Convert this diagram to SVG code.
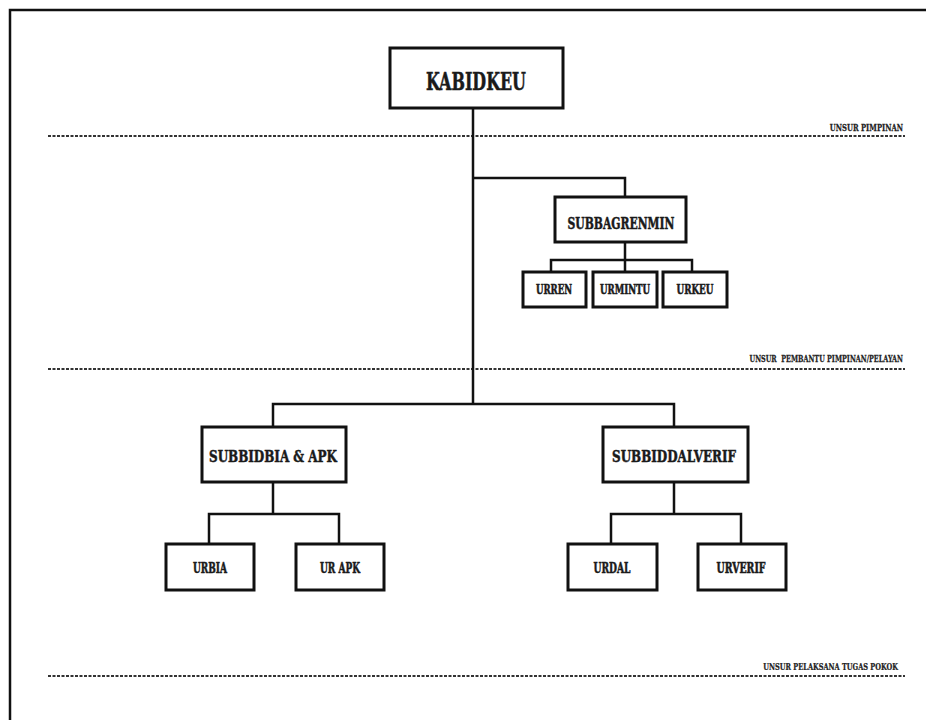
<svg xmlns="http://www.w3.org/2000/svg" width="926" height="720" viewBox="0 0 926 720">
<style>
.box{fill:#fff;stroke:#111;stroke-width:3}
.t{font-family:"DejaVu Serif Condensed","DejaVu Serif","Liberation Serif",serif;font-weight:bold;fill:#1a1a1a;stroke:#1a1a1a;stroke-width:0.5;text-anchor:middle}
.lbl{font-family:"DejaVu Serif Condensed","DejaVu Serif","Liberation Serif",serif;font-weight:bold;fill:#222;stroke:#222;stroke-width:0.25;text-anchor:end;font-size:9.5px}
.dash{stroke:#333;stroke-width:2;stroke-dasharray:3 1.5;fill:none}
.c{stroke:#111;stroke-width:2.5;fill:none}
</style>
<rect width="926" height="720" fill="#fff"/>
<path d="M10,730 V10 H936" fill="none" stroke="#111" stroke-width="2.5"/>
<g id="divisions">
<line class="dash" x1="48" y1="136" x2="905" y2="136"/>
<text class="lbl" transform="translate(903,131) scale(0.8,1)">UNSUR PIMPINAN</text>
<line class="dash" x1="48" y1="369" x2="905" y2="369"/>
<text class="lbl" transform="translate(903,362) scale(0.755,1)" xml:space="preserve">UNSUR  PEMBANTU PIMPINAN/PELAYAN</text>
<line class="dash" x1="48" y1="676" x2="905" y2="676"/>
<text class="lbl" transform="translate(898,670) scale(0.77,1)">UNSUR PELAKSANA TUGAS POKOK</text>
</g>
<g id="connectors">
<path class="c" d="M473,108 V404"/>
<path class="c" d="M473,178 H625 V197"/>
<path class="c" d="M625,242 V260 M551,272 V260 H692 V272 M625,260 V272"/>
<path class="c" d="M273,427 V404 H674 V427"/>
<path class="c" d="M273,482 V514 M209,544 V514 H339 V544"/>
<path class="c" d="M674,482 V514 M611,544 V514 H741 V544"/>
</g>
<g id="kabidkeu">
<rect class="box" x="390" y="48" width="173" height="60"/>
<text class="t" x="476" y="90" font-size="25" textLength="100" lengthAdjust="spacingAndGlyphs">KABIDKEU</text>
</g>
<g id="subbagrenmin">
<rect class="box" x="555" y="197" width="131" height="45"/>
<text class="t" x="621" y="229" font-size="17" textLength="107" lengthAdjust="spacingAndGlyphs">SUBBAGRENMIN</text>
</g>
<g id="urren">
<rect class="box" x="523" y="272" width="63" height="35"/>
<text class="t" x="554" y="294" font-size="12.5" textLength="36" lengthAdjust="spacingAndGlyphs">URREN</text>
</g>
<g id="urmintu">
<rect class="box" x="593" y="272" width="64" height="35"/>
<text class="t" x="625" y="294" font-size="12.5" textLength="50" lengthAdjust="spacingAndGlyphs">URMINTU</text>
</g>
<g id="urkeu">
<rect class="box" x="663" y="272" width="64" height="35"/>
<text class="t" x="695" y="294" font-size="12.5" textLength="37" lengthAdjust="spacingAndGlyphs">URKEU</text>
</g>
<g id="subbidbia">
<rect class="box" x="202" y="427" width="144" height="55"/>
<text class="t" x="273" y="462" font-size="17" textLength="128" lengthAdjust="spacingAndGlyphs">SUBBIDBIA &amp; APK</text>
</g>
<g id="subbiddalverif">
<rect class="box" x="603" y="427" width="145" height="55"/>
<text class="t" x="674" y="462" font-size="17" textLength="124" lengthAdjust="spacingAndGlyphs">SUBBIDDALVERIF</text>
</g>
<g id="urbia">
<rect class="box" x="166" y="544" width="88" height="46"/>
<text class="t" x="210" y="573" font-size="14.5" textLength="34" lengthAdjust="spacingAndGlyphs">URBIA</text>
</g>
<g id="urapk">
<rect class="box" x="296" y="544" width="88" height="46"/>
<text class="t" x="340" y="573" font-size="14.5" textLength="40" lengthAdjust="spacingAndGlyphs">UR APK</text>
</g>
<g id="urdal">
<rect class="box" x="568" y="544" width="89" height="46"/>
<text class="t" x="612" y="573" font-size="14.5" textLength="37" lengthAdjust="spacingAndGlyphs">URDAL</text>
</g>
<g id="urverif">
<rect class="box" x="698" y="544" width="88" height="46"/>
<text class="t" x="741" y="573" font-size="14.5" textLength="49" lengthAdjust="spacingAndGlyphs">URVERIF</text>
</g>
</svg>
